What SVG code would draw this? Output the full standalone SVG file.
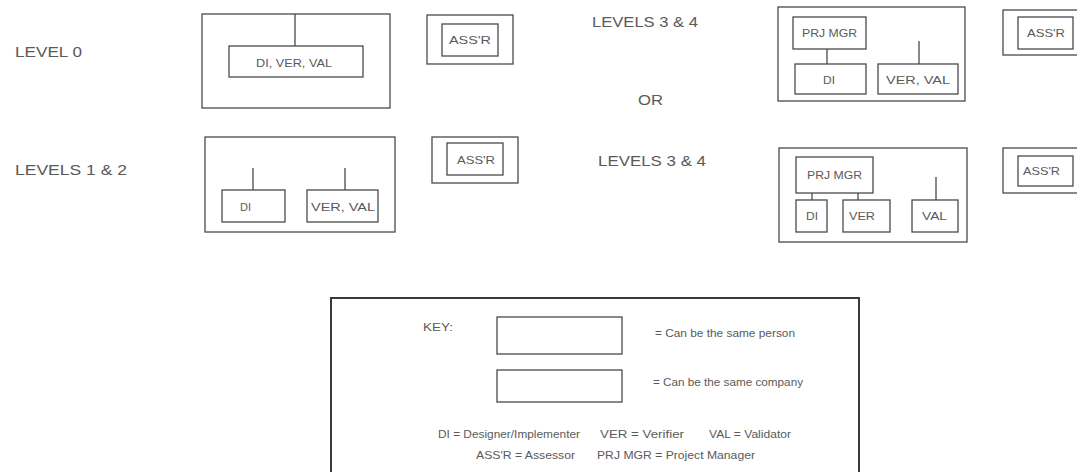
<svg xmlns="http://www.w3.org/2000/svg" width="1077" height="472" viewBox="0 0 1077 472">
<style>
.n rect{fill:none;stroke:#4a4a4a;stroke-width:1.3}
.c line{stroke:#4a4a4a;stroke-width:1.3}
text{font-family:"Liberation Sans",Arial,sans-serif;fill:#5a5a5a}
.lvl{font-size:15.5px}
.bx{font-size:11.5px}
.k{font-size:11px}
</style>
<rect x="0" y="0" width="1077" height="472" fill="#fff"/>
<text class="lvl" x="15" y="57" textLength="67" lengthAdjust="spacingAndGlyphs">LEVEL 0</text>
<text class="lvl" x="15" y="175" textLength="112" lengthAdjust="spacingAndGlyphs">LEVELS 1 &amp; 2</text>
<text class="lvl" x="592" y="27" textLength="106" lengthAdjust="spacingAndGlyphs">LEVELS 3 &amp; 4</text>
<text class="lvl" x="598" y="166" textLength="108" lengthAdjust="spacingAndGlyphs">LEVELS 3 &amp; 4</text>
<text class="lvl" x="638" y="105" textLength="25" lengthAdjust="spacingAndGlyphs">OR</text>
<g id="level0" class="n">
<rect x="202" y="14" width="188" height="94"/>
<rect x="229" y="46" width="134" height="31"/>
<text class="bx" x="256" y="67" textLength="76" lengthAdjust="spacingAndGlyphs">DI, VER, VAL</text>
</g>
<g id="assr1" class="n">
<rect x="427" y="15" width="86" height="49"/>
<rect x="442" y="24" width="56" height="32"/>
<text class="bx" x="449" y="44" textLength="42" lengthAdjust="spacingAndGlyphs">ASS'R</text>
</g>
<g id="levels34a" class="n">
<rect x="778" y="7" width="187" height="94"/>
<rect x="793" y="17" width="73" height="32"/>
<text class="bx" x="802" y="37" textLength="55" lengthAdjust="spacingAndGlyphs">PRJ MGR</text>
<rect x="795" y="64" width="71" height="30"/>
<text class="bx" x="823" y="84" textLength="12" lengthAdjust="spacingAndGlyphs">DI</text>
<rect x="878" y="64" width="80" height="30"/>
<text class="bx" x="886" y="84" textLength="64" lengthAdjust="spacingAndGlyphs">VER, VAL</text>
</g>
<g id="assr3" class="n">
<rect x="1003" y="10" width="80" height="45"/>
<rect x="1018" y="17" width="55" height="32"/>
<text class="bx" x="1027" y="37" textLength="38" lengthAdjust="spacingAndGlyphs">ASS'R</text>
</g>
<g id="levels12" class="n">
<rect x="205" y="137" width="190" height="95"/>
<rect x="222" y="190" width="63" height="32"/>
<text class="bx" x="240" y="211" textLength="11" lengthAdjust="spacingAndGlyphs">DI</text>
<rect x="307" y="190" width="71" height="32"/>
<text class="bx" x="311" y="211" textLength="64" lengthAdjust="spacingAndGlyphs">VER, VAL</text>
</g>
<g id="assr2" class="n">
<rect x="432" y="137" width="86" height="46"/>
<rect x="447" y="143" width="56" height="32"/>
<text class="bx" x="457" y="164" textLength="38" lengthAdjust="spacingAndGlyphs">ASS'R</text>
</g>
<g id="levels34b" class="n">
<rect x="779" y="148" width="188" height="94"/>
<rect x="796" y="157" width="77" height="36"/>
<text class="bx" x="807" y="179" textLength="55" lengthAdjust="spacingAndGlyphs">PRJ MGR</text>
<rect x="796" y="200" width="31" height="32"/>
<text class="bx" x="806" y="220" textLength="12" lengthAdjust="spacingAndGlyphs">DI</text>
<rect x="843" y="200" width="47" height="32"/>
<text class="bx" x="849" y="220" textLength="26" lengthAdjust="spacingAndGlyphs">VER</text>
<rect x="912" y="200" width="46" height="32"/>
<text class="bx" x="922" y="220" textLength="25" lengthAdjust="spacingAndGlyphs">VAL</text>
</g>
<g id="assr4" class="n">
<rect x="1003" y="148" width="80" height="45"/>
<rect x="1018" y="156" width="55" height="30"/>
<text class="bx" x="1023" y="175" textLength="37" lengthAdjust="spacingAndGlyphs">ASS'R</text>
</g>
<g class="c" id="connectors">
<line x1="295" y1="14" x2="295" y2="46"/>
<line x1="827" y1="49" x2="827" y2="64"/>
<line x1="919" y1="41" x2="919" y2="64"/>
<line x1="253" y1="168" x2="253" y2="190"/>
<line x1="345" y1="168" x2="345" y2="190"/>
<line x1="812" y1="193" x2="812" y2="200"/>
<line x1="858" y1="193" x2="858" y2="200"/>
<line x1="936" y1="177" x2="936" y2="200"/>
</g>
<g id="key" class="n">
<rect x="331" y="298" width="528" height="180" style="stroke-width:2;stroke:#3a3a3a"/>
<text class="k" x="423" y="331" textLength="30" lengthAdjust="spacingAndGlyphs">KEY:</text>
<rect x="497" y="317" width="125" height="37"/>
<rect x="497" y="370" width="125" height="32"/>
<text class="k" x="655" y="337" textLength="140" lengthAdjust="spacingAndGlyphs">= Can be the same person</text>
<text class="k" x="653" y="386" textLength="150" lengthAdjust="spacingAndGlyphs">= Can be the same company</text>
<text class="k" x="438" y="438" textLength="142" lengthAdjust="spacingAndGlyphs">DI = Designer/Implementer</text>
<text class="k" x="600" y="438" textLength="84" lengthAdjust="spacingAndGlyphs">VER = Verifier</text>
<text class="k" x="709" y="438" textLength="82" lengthAdjust="spacingAndGlyphs">VAL = Validator</text>
<text class="k" x="476" y="459" textLength="99" lengthAdjust="spacingAndGlyphs">ASS'R = Assessor</text>
<text class="k" x="597" y="459" textLength="158" lengthAdjust="spacingAndGlyphs">PRJ MGR = Project Manager</text>
</g>
</svg>
